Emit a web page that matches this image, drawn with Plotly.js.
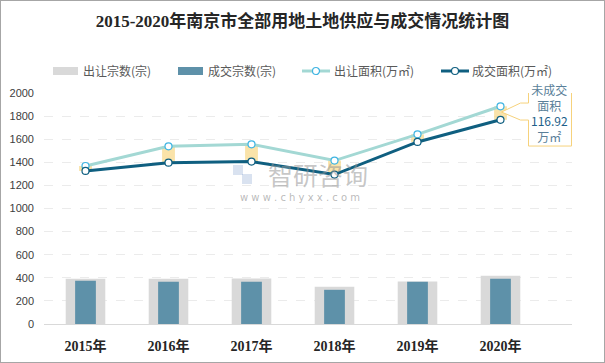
<!DOCTYPE html>
<html>
<head>
<meta charset="utf-8">
<script src="https://cdn.plot.ly/plotly-3.0.1.min.js"></script>
<style>
html,body{margin:0;padding:0;background:#fff;}
#chart{width:605px;height:363px;}
#frame{position:absolute;left:0;top:0;width:605px;height:363px;box-sizing:border-box;border:1px solid #a6a6a6;pointer-events:none;}
</style>
</head>
<body>
<div id="chart"></div>
<div id="frame"></div>
<script>
// ---- data ----
const categories = ['2015年', '2016年', '2017年', '2018年', '2019年', '2020年'];
const supplyCount = [391, 391, 393, 322, 367, 417];   // 出让宗数(宗)
const dealCount   = [374, 365, 365, 296, 365, 391];   // 成交宗数(宗)
const supplyArea  = [1368, 1538, 1556, 1415, 1642, 1885]; // 出让面积(万㎡)
const dealArea    = [1325, 1397, 1406, 1294, 1576, 1768]; // 成交面积(万㎡)
const yTicks = [0, 200, 400, 600, 800, 1000, 1200, 1400, 1600, 1800, 2000];
const seriesNames = ['出让宗数(宗)', '成交宗数(宗)', '出让面积(万㎡)', '成交面积(万㎡)'];
const unsoldText = '116.92';
const titleText = '2015-2020年南京市全部用地土地供应与成交情况统计图';

// ---- styling ----
const cGray = '#d9d9d9', cBlue = '#5e91a9', cTeal = '#a3d8d4', cDark = '#0f5f80';
const cMkTeal = '#3fb4e2', cYellow = 'rgba(248,218,140,0.75)';
const gapVals = supplyArea.map((v, i) => v - dealArea[i]);

const traces = [
  {type: 'bar', x: categories, y: supplyCount, width: 0.477, marker: {color: cGray}, name: seriesNames[0]},
  {type: 'bar', x: categories, y: dealCount, width: 0.25, marker: {color: cBlue}, name: seriesNames[1]},
  {type: 'bar', x: categories, y: gapVals, base: dealArea, width: 0.155, marker: {color: cYellow}, name: 'gap'},
  {type: 'scatter', mode: 'lines+markers', x: categories, y: supplyArea, name: seriesNames[2],
   line: {color: cTeal, width: 3}, marker: {size: 7, color: '#fff', line: {color: cMkTeal, width: 1.2}}, cliponaxis: false},
  {type: 'scatter', mode: 'lines+markers', x: categories, y: dealArea, name: seriesNames[3],
   line: {color: cDark, width: 3}, marker: {size: 7, color: '#fff', line: {color: cDark, width: 1.2}}, cliponaxis: false}
];

// plot geometry helpers for decorations (paper coords)
const L = 44, R = 33, T = 93, B = 39, W = 605, H = 363;
const pw = W - L - R, ph = H - T - B;
const xp = px => (px - L) / pw;
const yp = py => (H - B - py) / ph;

const legFont = {family: '"Noto Sans CJK SC", "Noto Sans", sans-serif', size: 12, color: '#595959'};
const legY = 71;
const shapes = [
  // legend swatches
  {type: 'rect', xref: 'paper', yref: 'paper', x0: xp(53), x1: xp(78), y0: yp(75), y1: yp(67), fillcolor: cGray, line: {width: 0}},
  {type: 'rect', xref: 'paper', yref: 'paper', x0: xp(178), x1: xp(203), y0: yp(75), y1: yp(67), fillcolor: cBlue, line: {width: 0}},
  {type: 'line', xref: 'paper', yref: 'paper', x0: xp(302), x1: xp(330), y0: yp(legY), y1: yp(legY), line: {color: cTeal, width: 3}},
  {type: 'circle', xref: 'paper', yref: 'paper', xsizemode: 'pixel', ysizemode: 'pixel', xanchor: xp(316), yanchor: yp(legY),
   x0: -3.5, x1: 3.5, y0: -3.5, y1: 3.5, fillcolor: '#fff', line: {color: cMkTeal, width: 1.2}},
  {type: 'line', xref: 'paper', yref: 'paper', x0: xp(441), x1: xp(469), y0: yp(legY), y1: yp(legY), line: {color: cDark, width: 3}},
  {type: 'circle', xref: 'paper', yref: 'paper', xsizemode: 'pixel', ysizemode: 'pixel', xanchor: xp(455), yanchor: yp(legY),
   x0: -3.5, x1: 3.5, y0: -3.5, y1: 3.5, fillcolor: '#fff', line: {color: cDark, width: 1.2}},
  // callout box with notch pointing to the 2020 gap
  {type: 'path', xref: 'x', yref: 'y', xsizemode: 'pixel', ysizemode: 'pixel',
   xanchor: categories[5], yanchor: (supplyArea[5] + dealArea[5]) / 2,
   path: 'M 28,10 L 28,35 L 71,35 L 71,-33 L 28,-33 L 28,-7 L 20,-7 L 1,1 L 20,10 Z',
   fillcolor: '#ffffff', line: {color: '#f6d27c', width: 1}, layer: 'above'},
  // watermark logo (faint)
  {type: 'rect', xref: 'paper', yref: 'paper', x0: xp(233), x1: xp(243), y0: yp(175), y1: yp(165), fillcolor: 'rgba(120,150,200,0.28)', line: {width: 0}, layer: 'below'},
  {type: 'rect', xref: 'paper', yref: 'paper', x0: xp(242), x1: xp(252), y0: yp(184), y1: yp(174), fillcolor: 'rgba(120,150,200,0.28)', line: {width: 0}, layer: 'below'}
];

const annotations = [
  {xref: 'paper', yref: 'paper', x: xp(81), y: yp(legY), xanchor: 'left', yanchor: 'middle', showarrow: false, text: seriesNames[0], font: legFont},
  {xref: 'paper', yref: 'paper', x: xp(206), y: yp(legY), xanchor: 'left', yanchor: 'middle', showarrow: false, text: seriesNames[1], font: legFont},
  {xref: 'paper', yref: 'paper', x: xp(332), y: yp(legY), xanchor: 'left', yanchor: 'middle', showarrow: false, text: seriesNames[2], font: legFont},
  {xref: 'paper', yref: 'paper', x: xp(470), y: yp(legY), xanchor: 'left', yanchor: 'middle', showarrow: false, text: seriesNames[3], font: legFont},
  // callout text
  {xref: 'x', yref: 'y', x: categories[5], y: (supplyArea[5] + dealArea[5]) / 2, xshift: 49, yshift: 0,
   showarrow: false, xanchor: 'center', yanchor: 'middle', align: 'center',
   text: '<span style="color:#5a7f99">未成交</span><br><span style="color:#5a7f99">面积</span><br><span style="color:#1e5f8a">' + unsoldText + '</span><br><span style="color:#5a7f99">万㎡</span>',
   font: {family: '"Noto Sans CJK SC", "Noto Sans", sans-serif', size: 12}},
  // watermark
  {xref: 'paper', yref: 'paper', x: xp(318), y: yp(174), xanchor: 'center', yanchor: 'middle', showarrow: false,
   text: '智研咨询', font: {family: '"Noto Sans CJK SC", sans-serif', size: 25, color: 'rgba(150,150,150,0.55)'}},
  {xref: 'paper', yref: 'paper', x: xp(300), y: yp(197), xanchor: 'center', yanchor: 'middle', showarrow: false,
   text: 'w w w . c h y x x . c o m', font: {family: '"DejaVu Sans", sans-serif', size: 10, color: 'rgba(140,140,140,0.6)'}}
];

const layout = {
  width: W, height: H,
  margin: {l: L, r: R, t: T, b: B, pad: 0},
  paper_bgcolor: '#ffffff', plot_bgcolor: '#ffffff',
  barmode: 'overlay',
  showlegend: false,
  hovermode: false,
  title: {text: '<b>' + titleText + '</b>', x: 0.5, xref: 'container', xanchor: 'center',
          y: 1 - 21 / H, yref: 'container', yanchor: 'middle',
          font: {family: '"Liberation Serif", "Noto Sans CJK SC", serif', size: 17, color: '#262626'}},
  xaxis: {type: 'category', categoryarray: categories, showgrid: false, zeroline: false,
          showline: true, linecolor: '#d9d9d9', linewidth: 1, ticks: '', ticklabelstandoff: 9,
          tickfont: {family: '"Liberation Serif", "Noto Sans CJK SC", serif', size: 14, color: '#262626', weight: 'bold'}},
  yaxis: {range: [0, 2000], tickvals: yTicks, ticktext: yTicks.map(String), showgrid: true, gridcolor: '#ebebeb', griddash: 'dash',
          gridwidth: 1, zeroline: false, showline: false, ticks: '', ticklabelstandoff: 9,
          tickfont: {family: '"Liberation Sans", Arial, sans-serif', size: 11, color: '#404040'}},
  shapes: shapes,
  annotations: annotations
};

Plotly.newPlot('chart', traces, layout, {displayModeBar: false, staticPlot: true});
</script>
</body>
</html>
